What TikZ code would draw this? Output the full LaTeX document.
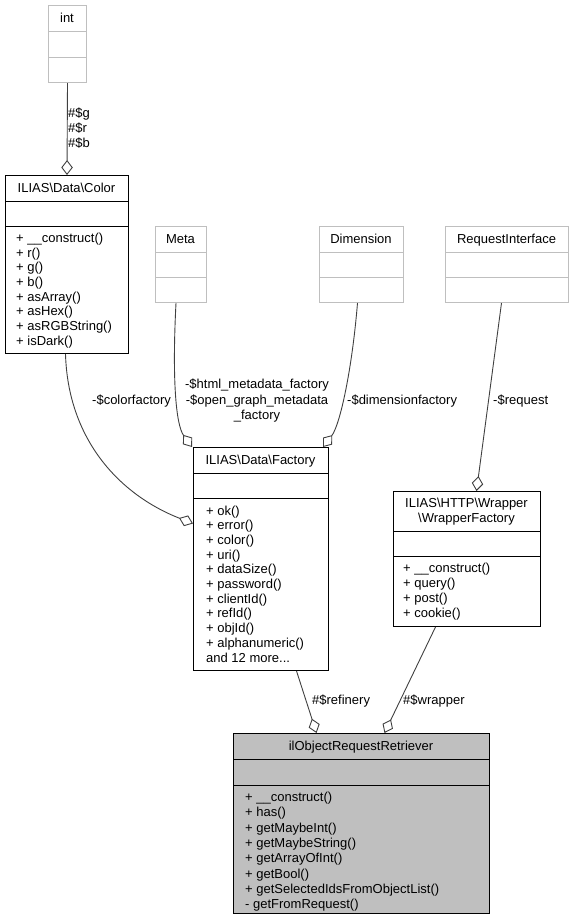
\documentclass[tikz,border=0pt]{standalone}
\usepackage{fontspec}
\setmainfont{Liberation Sans}
\usetikzlibrary{arrows.meta}
\definecolor{graybox}{HTML}{BFBFBF}
\definecolor{edgecol}{HTML}{404040}
\definecolor{mainfill}{HTML}{BFBFBF}
\begin{document}
\begin{tikzpicture}[x=1pt,y=-1pt,
  font=\fontsize{13}{14.7}\selectfont,
  blackbox/.style={draw=black, line width=1pt, rectangle, inner sep=0pt, anchor=north west},
  greybox/.style={draw=graybox, line width=1pt, rectangle, inner sep=0pt, anchor=north west},
  blacksep/.style={draw=black, line width=1pt},
  greysep/.style={draw=graybox, line width=1pt},
  titletext/.style={anchor=base, inner sep=0pt},
  methods/.style={anchor=base west, align=left, inner sep=0pt},
  lbl/.style={anchor=base west, inner sep=0pt, align=left},
  assoc/.style={draw=edgecol, line width=0.9pt, -{Diamond[open,length=15pt,width=11.5pt,line width=0.9pt]}, fill=none},
]
\useasboundingbox (0,0) rectangle (573,919);

% ---------- int ----------
\node[greybox, minimum width=38, minimum height=77] (int) at (48,5) {};
\draw[greysep] (48,31) -- (86,31) (48,57) -- (86,57);
\node[titletext] (intt) at (67,22) {int};

% ---------- Color ----------
\node[blackbox, minimum width=123, minimum height=178] (color) at (5,175) {};
\draw[blacksep] (5,201) -- (128,201) (5,226) -- (128,226);
\node[titletext] (colort) at (66.5,192.5) {ILIAS\textbackslash Data\textbackslash Color};
\node[methods] (colorm) at (16,345.2) {+ \_\_construct()\\+ r()\\+ g()\\+ b()\\+ asArray()\\+ asHex()\\+ asRGBString()\\+ isDark()};

% ---------- Meta ----------
\node[greybox, minimum width=51, minimum height=76] (meta) at (155,226) {};
\draw[greysep] (155,252) -- (206,252) (155,277) -- (206,277);
\node[titletext] (metat) at (180.5,243.5) {Meta};

% ---------- Dimension ----------
\node[greybox, minimum width=84, minimum height=76] (dim) at (319,226) {};
\draw[greysep] (319,252) -- (403,252) (319,277) -- (403,277);
\node[titletext] (dimt) at (361,243.5) {Dimension};

% ---------- RequestInterface ----------
\node[greybox, minimum width=123, minimum height=76] (req) at (445,226) {};
\draw[greysep] (445,252) -- (568,252) (445,277) -- (568,277);
\node[titletext] (reqt) at (506.5,243.5) {RequestInterface};

% ---------- Factory ----------
\node[blackbox, minimum width=135, minimum height=223] (factory) at (193,447) {};
\draw[blacksep] (193,473) -- (328,473) (193,498) -- (328,498);
\node[titletext] (factoryt) at (260.5,464) {ILIAS\textbackslash Data\textbackslash Factory};
\node[methods] (factorym) at (206,662) {+ ok()\\+ error()\\+ color()\\+ uri()\\+ dataSize()\\+ password()\\+ clientId()\\+ refId()\\+ objId()\\+ alphanumeric()\\and 12 more...};

% ---------- WrapperFactory ----------
\node[blackbox, minimum width=147, minimum height=135] (wrap) at (393,491) {};
\draw[blacksep] (393,531) -- (540,531) (393,556) -- (540,556);
\node[titletext, align=center, font=\fontsize{13}{15}\selectfont] (wrapt) at (466.5,522.5) {ILIAS\textbackslash HTTP\textbackslash Wrapper\\\textbackslash WrapperFactory};
\node[methods, font=\fontsize{13}{15}\selectfont] (wrapm) at (403,617) {+ \_\_construct()\\+ query()\\+ post()\\+ cookie()};

% ---------- ilObjectRequestRetriever ----------
\node[blackbox, fill=mainfill, minimum width=256, minimum height=180] (main) at (233,733) {};
\draw[blacksep] (233,759) -- (489,759) (233,785) -- (489,785);
\node[titletext] (maint) at (361,750.5) {ilObjectRequestRetriever};
\node[methods, font=\fontsize{13}{15.3}\selectfont] (mainm) at (245,908.6) {+ \_\_construct()\\+ has()\\+ getMaybeInt()\\+ getMaybeString()\\+ getArrayOfInt()\\+ getBool()\\+ getSelectedIdsFromObjectList()\\- getFromRequest()};

% ---------- connectors ----------
\draw[assoc] (int.south) -- (color.north);
\draw[assoc] ([xshift=-1.5pt]color.south) .. controls (68,440) and (120,495) .. ([yshift=35.5pt]factory.west);
\draw[assoc] ([xshift=-5pt]meta.south) .. controls (172,380) and (176,425) .. ([xshift=-1pt]factory.north west);
\draw[assoc] ([xshift=-4pt]dim.south) .. controls (352,370) and (340,425) .. ([xshift=-6pt]factory.north east);
\draw[assoc] ([xshift=-5.5pt]req.south) -- ([xshift=9.5pt]wrap.north);
\draw[assoc] ([xshift=35.5pt]factory.south) -- ([xshift=-45pt]main.north);
\draw[assoc] ([xshift=-31.5pt]wrap.south) -- ([xshift=23pt]main.north);

% ---------- labels ----------
\node[lbl, font=\fontsize{13}{15}\selectfont] (lrgb) at (68,147.5) {\#\$g\\\#\$r\\\#\$b};
\node[lbl] (lcolor) at (92,404) {-\$colorfactory};
\node[anchor=base, inner sep=0pt, align=center, font=\fontsize{13}{15.5}\selectfont] (lmeta) at (257,419.5) {-\$html\_metadata\_factory\\-\$open\_graph\_metadata\\\_factory};
\node[lbl] (ldim) at (347,404) {-\$dimensionfactory};
\node[lbl] (lreq) at (493,404) {-\$request};
\node[lbl] (lref) at (312,704) {\#\$refinery};
\node[lbl] (lwrap) at (403,704) {\#\$wrapper};
\end{tikzpicture}
\end{document}
